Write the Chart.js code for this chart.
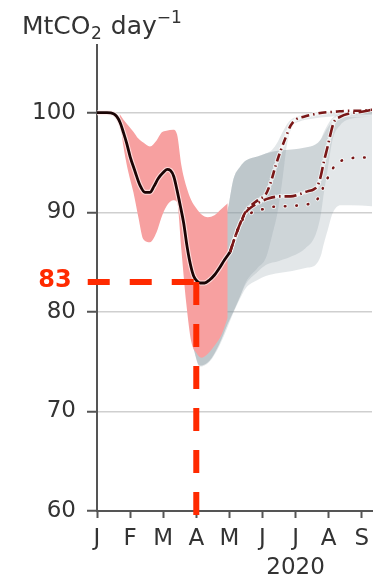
<!DOCTYPE html>
<html><head><meta charset="utf-8">
<script src="https://cdn.jsdelivr.net/npm/chart.js@4.4.1/dist/chart.umd.min.js"></script>
<style>html,body{margin:0;padding:0;background:#fff}#wrap{width:379px;height:580px;position:relative}</style>
</head><body><div id="wrap"><canvas id="c"></canvas></div>
<script>
// x values are months since 1 Jan 2020 (0 = J, 1 = F, ...)
const monthLabels = ['J','F','M','A','M','J','J','A','S'];
const yTickValues = [60,70,80,90,100];
const yearLabel = '2020';
const highlightValue = 83;
const highlightMonth = 3;

// observed daily emissions (black line)
const observedX = [0,0.3,0.5,0.6,0.7,0.8,0.9,1.0,1.15,1.3,1.45,1.6,1.72,1.85,2.0,2.12,2.22,2.32,2.42,2.52,2.62,2.72,2.82,2.92,3.02,3.12,3.25,3.4,3.55,3.7,3.85,4.02];
const observedY = [100,100,99.9,99.6,99.0,98.0,96.9,95.6,94.1,92.7,92.0,92.0,92.6,93.4,94.0,94.3,94.2,93.6,92.2,90.6,88.9,86.6,84.8,83.6,83.1,82.9,82.9,83.2,83.7,84.4,85.2,86.0];

// observed uncertainty (red band)
const redX     = [0.68,0.8,0.95,1.1,1.25,1.4,1.6,1.8,1.95,2.1,2.3,2.42,2.55,2.7,2.85,3.0,3.15,3.35,3.55,3.75,3.95];
const redUpper = [99.9,99.3,98.7,98.1,97.4,97.0,96.6,97.2,98.0,98.2,98.3,97.8,94.7,92.6,91.2,90.4,89.8,89.5,89.7,90.3,90.9];
const redLower = [99.7,96.6,94.0,92.0,89.5,87.3,87.0,88.0,89.5,90.6,91.2,91.0,86.2,80.8,77.0,75.9,75.4,75.8,76.6,77.6,79.4];

// projection bands (grey)
const band1X     = [2.9,3.1,3.4,3.7,3.95,4.12,4.33,4.5,4.85,5.1,5.3,5.45,5.6,5.75,5.9,6.1,6.5,7.0,8.31];
const band1Upper = [81,83,85.5,88,90.3,93.3,94.6,95.2,95.6,95.9,96.3,97.0,98.0,98.9,99.4,99.7,100,100.1,100.2];
const band1Lower = [76.5,74.6,75.1,76.8,78.8,80.0,81.6,83.0,84.4,85.4,87.8,89.9,93.2,97.0,98.6,99.1,99.4,99.6,99.8];

const band2X     = [2.9,3.1,3.4,3.7,3.95,4.12,4.33,4.5,4.85,5.1,5.5,5.9,6.3,6.6,6.76,6.85,6.97,7.12,7.36,7.67,8.31];
const band2Upper = [81,83,85.5,88,90.3,93.3,94.6,95.2,95.6,95.9,96.2,96.3,96.5,96.8,97.3,98.0,98.8,99.5,99.9,100.1,100.2];
const band2Lower = [76.5,74.6,75.1,76.8,78.8,80.0,81.6,82.8,84.0,84.7,85.1,85.6,86.4,87.7,89.7,91.8,94.3,97.3,98.8,99.4,99.6];

const band3X     = [2.9,3.1,3.4,3.7,3.95,4.12,4.33,4.5,4.85,5.1,5.5,5.9,6.3,6.6,6.76,6.85,6.97,7.12,7.36,7.67,8.31];
const band3Upper = [81,83,85.5,88,90.3,93.3,94.6,95.2,95.6,95.9,96.2,96.3,96.5,96.8,97.3,97.8,98.5,99.1,99.5,99.6,99.6];
const band3Lower = [76.5,74.5,75.0,76.6,78.5,79.9,81.4,82.4,83.2,83.6,83.9,84.1,84.4,84.7,85.6,86.8,88.2,89.9,90.7,90.7,90.6];

// projection central lines
const proj1X = [4.02,4.15,4.33,4.5,4.7,4.9,5.1,5.25,5.4,5.55,5.7,5.85,6.0,6.25,6.5,6.8,7.2,7.6,8.0,8.31];
const proj1Y = [86.0,87.3,88.9,90.1,90.8,91.3,91.8,93.0,94.7,96.2,97.5,98.7,99.3,99.6,99.8,100,100.1,100.2,100.2,100.3];
const proj2X = [4.02,4.15,4.33,4.5,4.7,4.9,5.2,5.55,5.85,6.1,6.36,6.55,6.67,6.76,6.85,6.97,7.06,7.15,7.36,7.6,8.0,8.31];
const proj2Y = [86.0,87.3,88.9,90.0,90.6,91.0,91.4,91.6,91.6,91.8,92.1,92.3,92.7,93.6,95.0,96.6,97.9,99.0,99.6,99.9,100.1,100.3];
const proj3X = [4.02,4.15,4.33,4.5,4.7,5.0,5.24,5.5,5.76,6.1,6.36,6.55,6.7,6.85,6.95,7.06,7.21,7.4,7.6,8.06,8.31];
const proj3Y = [86.0,87.3,88.9,89.6,90.0,90.3,90.5,90.6,90.6,90.7,90.8,91.0,91.5,92.6,93.3,94.0,94.8,95.2,95.4,95.5,95.5];

const xy = (xs, ys) => xs.map((x, i) => ({x, y: ys[i]}));
const FONT = 'DejaVu Sans';
const grey = 'rgba(140,155,163,0.24)';
const maroon = '#7a1717';

function bandPair(xs, up, lo, color, order) {
  return [
    {data: xy(xs, up), fill: '+1', backgroundColor: color, borderWidth: 0, pointRadius: 0, cubicInterpolationMode: 'monotone', order},
    {data: xy(xs, lo), fill: false, borderWidth: 0, pointRadius: 0, cubicInterpolationMode: 'monotone', order}
  ];
}
function projLine(xs, ys, dash, cap) {
  return [
    {data: xy(xs, ys), borderColor: 'rgba(255,255,255,0.7)', borderWidth: 4.5, borderDash: dash, borderCapStyle: 'round', pointRadius: 0, fill: false, cubicInterpolationMode: 'monotone', order: 6},
    {data: xy(xs, ys), borderColor: maroon, borderWidth: 2.6, borderDash: dash, borderCapStyle: cap, pointRadius: 0, fill: false, cubicInterpolationMode: 'monotone', order: 5}
  ];
}

const datasets = [
  ...bandPair(band3X, band3Upper, band3Lower, grey, 10),
  ...bandPair(band2X, band2Upper, band2Lower, grey, 10),
  ...bandPair(band1X, band1Upper, band1Lower, grey, 10),
  ...bandPair(redX, redUpper, redLower, '#f7a0a0', 8),
  ...projLine(proj1X, proj1Y, [8,4,1.5,4], 'butt'),
  ...projLine(proj2X, proj2Y, [12,4,1.5,4], 'butt'),
  ...projLine(proj3X, proj3Y, [0.5,11], 'round'),
  {data: xy(observedX, observedY), borderColor: 'rgba(255,235,235,0.8)', borderWidth: 5, pointRadius: 0, fill: false, cubicInterpolationMode: 'monotone', order: 4},
  {data: xy(observedX, observedY), borderColor: '#1a0404', borderWidth: 2.8, pointRadius: 0, fill: false, cubicInterpolationMode: 'monotone', order: 3},
  {data: [{x: -0.28, y: highlightValue}, {x: highlightMonth, y: highlightValue}], borderColor: '#ff2a00', borderWidth: 6, borderDash: [22,20], borderCapStyle: 'butt', pointRadius: 0, fill: false, clip: false, order: 1},
  {data: [{x: highlightMonth, y: highlightValue}, {x: highlightMonth, y: 59.3}], borderColor: '#ff2a00', borderWidth: 6, borderDash: [23,19], borderCapStyle: 'butt', pointRadius: 0, fill: false, clip: false, order: 1}
];

const textPlugin = {
  id: 'texts',
  afterDraw(chart) {
    const ctx = chart.ctx;
    const xs = chart.scales.x, ys = chart.scales.y;
    ctx.save();
    ctx.fillStyle = '#333';
    ctx.textBaseline = 'alphabetic';
    ctx.textAlign = 'left';
    let x = 22; const base = 34;
    ctx.font = '25px ' + FONT;
    ctx.fillText('MtCO', x, base); x += ctx.measureText('MtCO').width + 0.5;
    ctx.font = '17px ' + FONT;
    ctx.fillText('2', x, base + 5); x += ctx.measureText('2').width + 1;
    ctx.font = '25px ' + FONT;
    ctx.fillText(' day', x, base); x += ctx.measureText(' day').width;
    ctx.font = '17px ' + FONT;
    ctx.fillText('\u22121', x, base - 11);
    // year
    ctx.font = '23px ' + FONT;
    ctx.textAlign = 'center';
    ctx.textBaseline = 'middle';
    ctx.fillText(yearLabel, xs.getPixelForValue(6), 568);
    // highlight value
    ctx.font = 'bold 24px ' + FONT;
    ctx.fillStyle = '#ff2a00';
    ctx.fillText(String(highlightValue), 55, ys.getPixelForValue(highlightValue) - 1);
    ctx.restore();
  }
};

new Chart(document.getElementById('c'), {
  type: 'line',
  data: {datasets},
  options: {
    responsive: true, maintainAspectRatio: false, animation: false,
    layout: {padding: {top: 45, right: 7, left: 0, bottom: 0}},
    plugins: {legend: {display: false}, tooltip: {enabled: false}},
    elements: {line: {tension: 0}},
    scales: {
      x: {
        type: 'linear', min: 0, max: 8.31,
        afterBuildTicks: s => { s.ticks = monthLabels.map((_, i) => ({value: i})); },
        afterFit: s => { s.height = 69; },
        ticks: {callback: (v, i) => monthLabels[i], autoSkip: false, maxRotation: 0, padding: 7, color: '#333', font: {family: FONT, size: 23}},
        grid: {drawOnChartArea: false, tickLength: 7, tickColor: '#555', tickWidth: 2},
        border: {color: '#555', width: 2}
      },
      y: {
        type: 'linear', min: 60, max: 106.8,
        afterBuildTicks: s => { s.ticks = yTickValues.map(v => ({value: v})); },
        afterFit: s => { s.width = 97; },
        ticks: {padding: 11, color: '#333', font: {family: FONT, size: 23}},
        grid: {color: c => (c.tick && c.tick.value === 60) ? 'rgba(0,0,0,0)' : '#cfcfcf', lineWidth: 1.5, tickLength: 10, tickColor: '#555', tickWidth: 2},
        border: {color: '#555', width: 2}
      }
    }
  },
  plugins: [textPlugin]
});
</script></body></html>
